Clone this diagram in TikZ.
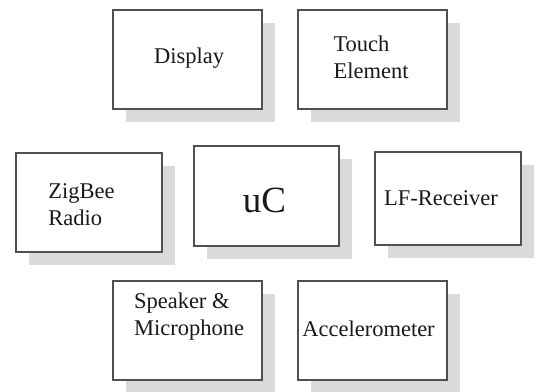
\documentclass[tikz,border=0pt]{standalone}
\usepackage{fontspec}
\setmainfont{Liberation Serif}
\usetikzlibrary{shadows}
\definecolor{shadowgray}{HTML}{DADADA}
\definecolor{edgegray}{HTML}{505050}
\tikzset{
  box/.style={draw=edgegray, line width=1.3pt, fill=white, inner sep=0pt,
    drop shadow={shadow xshift=12.5pt, shadow yshift=-12.5pt, fill=shadowgray, opacity=1}},
  lbl/.style={inner sep=0pt, align=left, font=\fontsize{22.5}{27}\selectfont, text=black!90}
}
\begin{document}
\begin{tikzpicture}[x=1pt,y=-1pt]
\useasboundingbox (0,0) rectangle (537,391);
% boxes
\node[box, minimum width=149pt, minimum height=99pt] (display) at (187.5,59.5) {};
\node[box, minimum width=149pt, minimum height=99pt] (touch) at (372.5,59.5) {};
\node[box, minimum width=146pt, minimum height=99pt] (zigbee) at (89,202.5) {};
\node[box, minimum width=145pt, minimum height=100pt] (uc) at (266.5,196) {};
\node[box, minimum width=146pt, minimum height=93pt] (lf) at (448,198.5) {};
\node[box, minimum width=149pt, minimum height=99pt] (speaker) at (187.5,330.5) {};
\node[box, minimum width=149pt, minimum height=99pt] (accel) at (372.5,330.5) {};
% texts
\node[lbl] (tdisplay) at ([shift={(1.5,-1)}]display.center) {Display};
\node[lbl] (ttouch) at ([shift={(-1.5,-2)}]touch.center) {Touch\\Element};
\node[lbl] (tzigbee) at ([shift={(-7.5,2)}]zigbee.center) {ZigBee\\Radio};
\node[lbl, font=\fontsize{37}{42}\selectfont] (tuc) at ([shift={(-2,4)}]uc.center) {uC};
\node[lbl] (tlf) at ([shift={(-7,0)}]lf.center) {LF-Receiver};
\node[lbl] (tspeaker) at ([shift={(1.5,-14)}]speaker.center) {Speaker \&\\Microphone};
\node[lbl] (taccel) at ([shift={(-4,-2)}]accel.center) {Accelerometer};
\end{tikzpicture}
\end{document}
